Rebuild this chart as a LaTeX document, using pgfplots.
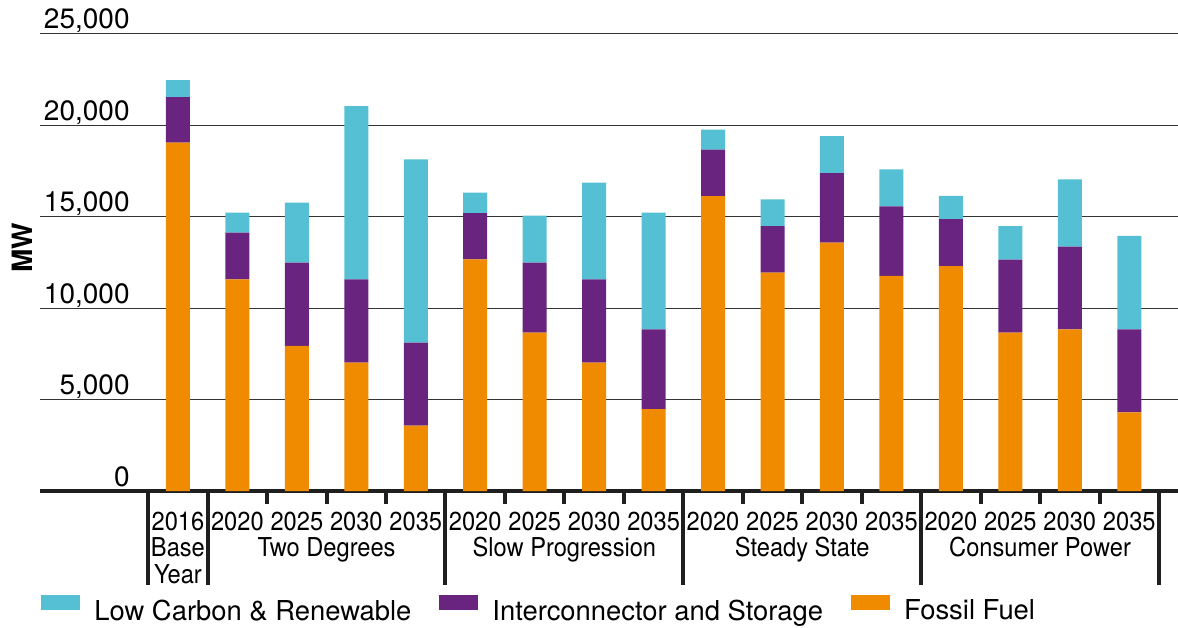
\documentclass[border=0pt]{standalone}
\usepackage{pgfplots}
\pgfplotsset{compat=1.18}
\usepackage{fontspec}
\setmainfont{TeX Gyre Heros}
\newfontfamily\condfont{TeX Gyre Heros}[FakeStretch=0.91]
\definecolor{cLC}{HTML}{55C0D4}
\definecolor{cIS}{HTML}{68247E}
\definecolor{cFF}{HTML}{F08B00}
\pgfplotsset{swatch/.style={legend image code/.code={\fill[##1] (0pt,0.6pt) rectangle (19.5pt,8.4pt);}}}
\begin{document}
\begin{tikzpicture}
\begin{axis}[
  scale only axis, width=569pt, height=228.75pt,
  xmin=-2.32, xmax=16.82, ymin=0, ymax=25000,
  ybar stacked, bar width=12pt,
  axis line style={draw=none},
  major tick length=0pt,
  xtick={0,...,16},
  xticklabels={2016,2020,2025,2030,2035,2020,2025,2030,2035,2020,2025,2030,2035,2020,2025,2030,2035},
  xticklabel style={anchor=base, yshift=-19.5pt, inner sep=0pt, font=\condfont\fontsize{13}{13}\selectfont},
  ytick={0,5000,10000,15000,20000,25000},
  scaled y ticks=false,
  /pgf/number format/1000 sep={,},
  /pgf/number format/assume math mode=true,
  yticklabel style={anchor=base east, xshift=45pt, yshift=2.5pt, inner sep=0pt, font=\fontsize{14}{16}\selectfont},
  ymajorgrids, major grid style={line width=0.5pt, color=black!80},
  ylabel={MW},
  every axis y label/.style={at={(axis description cs:-0.0158,0.532)}, rotate=90, anchor=center, font=\bfseries\fontsize{14}{16}\selectfont},
  clip=false,
  reverse legend,
  legend columns=-1,
  legend style={at={(axis description cs:0.00088,-0.2898)}, anchor=south west, draw=none, fill=none, inner sep=0pt,
    font=\fontsize{13.7}{16}\selectfont, nodes={inner sep=0pt},
    /tikz/every odd column/.append style={column sep=7pt},
    /tikz/every even column/.append style={column sep=14pt}},
]
\addplot[fill=cFF, draw=none, swatch] coordinates {
 (0,19040) (1,11570) (2,7925) (3,7015) (4,3575)
 (5,12660) (6,8655) (7,7015) (8,4480)
 (9,16120) (10,11935) (11,13575) (12,11750)
 (13,12295) (14,8655) (15,8835) (16,4300)};
\addlegendentry{Fossil Fuel}
\addplot[fill=cIS, draw=none, swatch] coordinates {
 (0,2490) (1,2550) (2,4555) (3,4555) (4,4535)
 (5,2530) (6,3825) (7,4555) (8,4355)
 (9,2535) (10,2545) (11,3800) (12,3810)
 (13,2555) (14,3990) (15,4520) (16,4535)};
\addlegendentry{Interconnector and Storage}
\addplot[fill=cLC, draw=none, swatch] coordinates {
 (0,920) (1,1090) (2,3280) (3,9455) (4,10015)
 (5,1115) (6,2570) (7,5285) (8,6375)
 (9,1090) (10,1460) (11,2020) (12,2020)
 (13,1275) (14,1835) (15,3675) (16,5100)};
\addlegendentry{Low Carbon \& Renewable}
\draw[line width=2pt, color=black!88] (rel axis cs:0,0) -- (rel axis cs:1,0);
\pgfplotsinvokeforeach{-0.5,0.5,4.5,8.5,12.5,16.5}{
  \draw[line width=2pt, color=black!88] (axis cs:#1,0) -- ++(0pt,-47pt);
}
\pgfplotsinvokeforeach{1.5,2.5,3.5,5.5,6.5,7.5,9.5,10.5,11.5,13.5,14.5,15.5}{
  \draw[line width=2pt, color=black!88] (axis cs:#1,0) -- ++(0pt,-6.5pt);
}
\node[anchor=base, yshift=-32.5pt, inner sep=0pt, font=\condfont\fontsize{13}{13}\selectfont] at (axis cs:0,0) {Base};
\node[anchor=base, yshift=-46pt, inner sep=0pt, font=\condfont\fontsize{13}{13}\selectfont] at (axis cs:0,0) {Year};
\node[anchor=base, yshift=-32.5pt, inner sep=0pt, font=\condfont\fontsize{13}{13}\selectfont] at (axis cs:2.5,0) {Two Degrees};
\node[anchor=base, yshift=-32.5pt, inner sep=0pt, font=\condfont\fontsize{13}{13}\selectfont] at (axis cs:6.5,0) {Slow Progression};
\node[anchor=base, yshift=-32.5pt, inner sep=0pt, font=\condfont\fontsize{13}{13}\selectfont] at (axis cs:10.5,0) {Steady State};
\node[anchor=base, yshift=-32.5pt, inner sep=0pt, font=\condfont\fontsize{13}{13}\selectfont] at (axis cs:14.5,0) {Consumer Power};
\end{axis}
\pgfresetboundingbox
\path[use as bounding box] (-20pt,-68pt) rectangle (569pt,245.5pt);
\end{tikzpicture}
\end{document}
